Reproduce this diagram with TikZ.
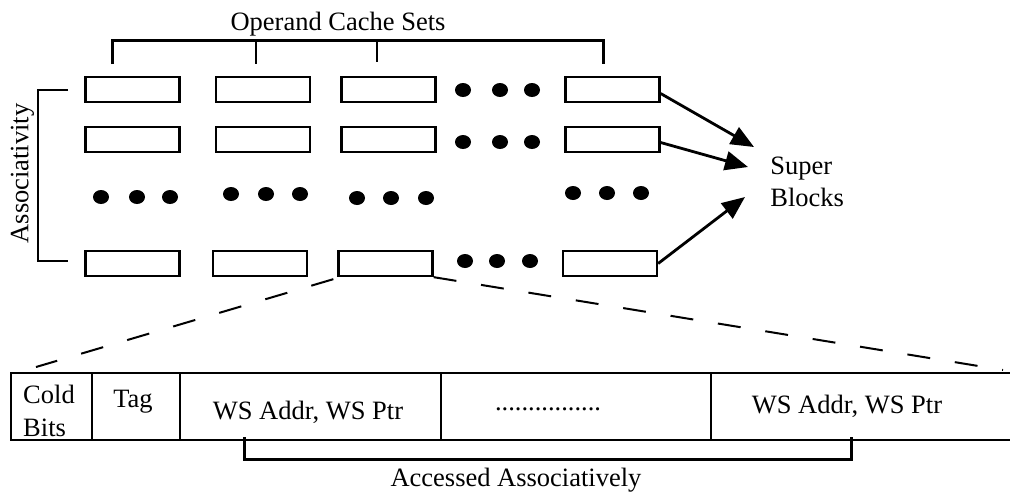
\documentclass[tikz,border=0pt]{standalone}
\usepackage{fontspec}
\setmainfont{Liberation Serif}
\usetikzlibrary{arrows.meta,shapes.geometric}
\begin{document}
\begin{tikzpicture}[x=0.5pt,y=-0.5pt,
  font=\fontsize{13.25pt}{16pt}\selectfont,
  blk/.style={draw, line width=1.15pt, minimum width=47pt, minimum height=12.5pt, inner sep=0pt},
  dot/.style={ellipse, fill, minimum width=8pt, minimum height=7pt, inner sep=0pt},
  brk/.style={line width=1.5pt},
  tick/.style={line width=1.1pt},
  arr/.style={line width=1.4pt, -{Triangle[length=11.5pt,width=9.5pt]}},
  zoomline/.style={line width=1pt, dash pattern=on 11.5pt off 12.5pt},
  fieldcell/.style={draw, line width=1.1pt, minimum height=33.5pt, inner sep=0pt, anchor=west},
  lbl/.style={inner sep=0pt}
]
\useasboundingbox (0,0) rectangle (1010,495);

% cache sets: rows of super blocks
\foreach \r/\y in {1/89.5, 2/139.5} {
  \node[blk] (b\r1) at (132.5,\y) {};
  \node[blk] (b\r2) at (263,\y) {};
  \node[blk] (b\r3) at (388.5,\y) {};
  \node[blk] (b\r5) at (612.5,\y) {};
}
\node[blk] (b41) at (132.5,263.5) {};
\node[blk] (b42) at (260,263.5) {};
\node[blk] (b43) at (385.5,263.5) {};
\node[blk] (b45) at (610,263.5) {};

% ellipsis dots
\foreach \x [count=\i] in {463,500,532} {
  \node[dot] (d1\i) at (\x,90) {};
  \node[dot] (d2\i) at (\x,142) {};
}
\foreach \x [count=\i] in {465,497,530} \node[dot] (d4\i) at (\x,261) {};
\foreach \x [count=\i] in {101,137,170} \node[dot] (e1\i) at (\x,197) {};
\foreach \x [count=\i] in {231,266,300} \node[dot] (e2\i) at (\x,194) {};
\foreach \x [count=\i] in {357,391,426} \node[dot] (e3\i) at (\x,198) {};
\foreach \x [count=\i] in {573,607,641} \node[dot] (e5\i) at (\x,193) {};

% bracket over the sets
\node[lbl] (sets) at (338,24) {Operand Cache Sets};
\draw[brk] (112,64) -- (112,40) -- (603,40) -- (603,64);
\draw[tick] (256,40) -- (256,64);
\draw[tick] (377,40) -- (377,62);

% associativity bracket
\draw[brk, line width=1.25pt] (68,90) -- (38,90) -- (38,261) -- (68,261);
\node[lbl, rotate=90] (assoc) at (22.5,173.5) {Associativity};

% super blocks
\node[lbl, align=left, anchor=west] (super) at (770,182) {Super\\Blocks};
\coordinate (sb1) at (754,147);
\coordinate (sb2) at (748,167);
\coordinate (sb3) at (745,197);
\draw[arr] ([yshift=-2pt]b15.east) -- (sb1);
\draw[arr] ([yshift=-1.5pt]b25.east) -- (sb2);
\draw[arr] (b45.east) -- (sb3);

% expansion of one super block
\coordinate (zl) at (36,367);
\coordinate (zr) at (1003,370);
\draw[zoomline] ([xshift=-2pt,yshift=-1pt]b43.south west) -- (zl);
\draw[zoomline] (b43.south east) -- (zr);

% fields of a super block
\node[fieldcell, minimum width=40.5pt] (c1) at (10,406.5) {};
\node[fieldcell, minimum width=44pt] (c2) at (91,406.5) {};
\node[fieldcell, minimum width=130.5pt] (c3) at (179,406.5) {};
\node[fieldcell, minimum width=135pt] (c4) at (440,406.5) {};
\node[fieldcell, minimum width=180pt] (c5) at (710,406.5) {};
\node[lbl, align=left, font=\fontsize{13.25pt}{16.5pt}\selectfont] (t1) at (49,411) {Cold\\Bits};
\node[lbl] (t2) at (133,402) {Tag};
\node[lbl] (t3) at (308,412) {WS Addr, WS Ptr};
\node[lbl] (t4) at (548,409) {................};
\node[lbl] (t5) at (847,406) {WS Addr, WS Ptr};

% associatively accessed fields
\draw[brk] (244,437) -- (244,459) -- (851,459) -- (851,437);
\node[lbl] (acc) at (516,480) {Accessed Associatively};
\end{tikzpicture}
\end{document}
